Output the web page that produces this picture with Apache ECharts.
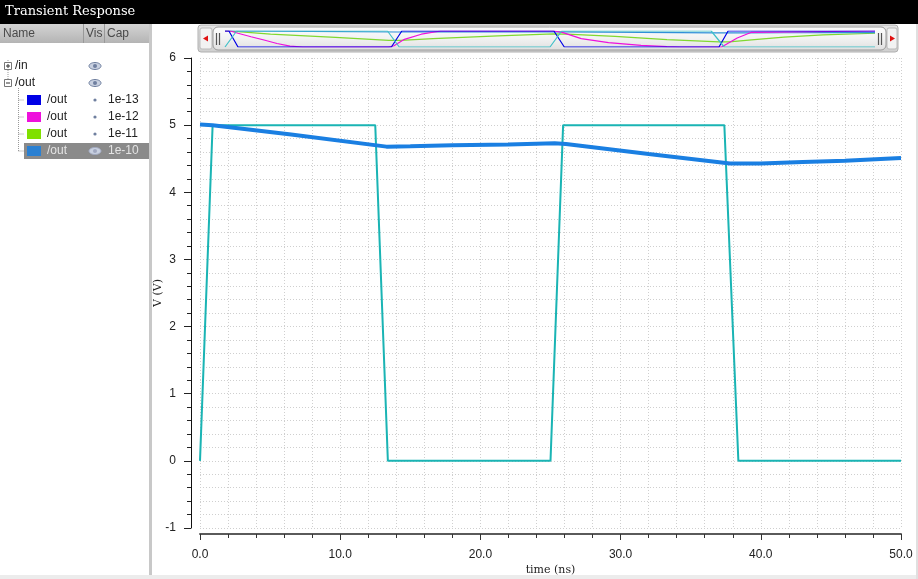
<!DOCTYPE html>
<html><head><meta charset="utf-8">
<script src="https://cdn.jsdelivr.net/npm/echarts@6/dist/echarts.min.js"></script>
<style>html,body{margin:0;padding:0;background:#fff}#c{width:918px;height:579px}</style>
</head><body><div id="c"></div>
<script>
// ---- data (time in ns, voltage in V) ----
const inT  = [0, 0.9, 12.5, 13.4, 25.0, 25.9, 37.4, 38.4, 50];
const inV  = [0, 5, 5, 0, 0, 5, 5, 0, 0];
const c10T = [0, 0.9, 6.5, 13.3, 15, 18, 22, 25.3, 26.1, 32, 37.8, 40, 43, 46, 50];
const c10V = [5.01, 5.0, 4.86, 4.68, 4.685, 4.70, 4.71, 4.73, 4.72, 4.57, 4.43, 4.43, 4.45, 4.47, 4.51];
const c11T = [0, 1, 3.5, 8.5, 12.6, 13.5, 16, 21, 25.3, 26.3, 30, 34, 38, 38.8, 40.5, 43, 46, 50];
const c11V = [5, 4.8, 4.0, 3.0, 2.1, 2.1, 2.6, 3.5, 4.1, 4.0, 3.3, 2.3, 1.6, 1.6, 2.2, 3.1, 3.8, 4.3];
const c12T = [0, 0.4, 1, 2, 3, 4, 5, 6, 12.6, 13.0, 13.8, 15.1, 16.6, 25.3, 26.0, 27.4, 29.5, 32, 34, 35, 38.2, 38.7, 39.4, 40.5, 50];
const c12V = [5, 5, 4.3, 3.2, 2.2, 1.1, 0.3, 0, 0, 0.4, 2.4, 4.0, 5, 5, 4.5, 2.6, 1.35, 0.5, 0.1, 0, 0, 1.2, 2.8, 4.6, 5];
const c13T = [0, 0.3, 1.0, 12.8, 13.6, 25.3, 26.1, 38.0, 38.7, 50];
const c13V = [5, 5, 0, 0, 5, 5, 0, 0, 5, 5];
const xTicks = [0, 10, 20, 30, 40, 50];
const yTicks = [-1, 0, 1, 2, 3, 4, 5, 6];
const rows = [
  {name: '/out', cap: '1e-13', color: '#0000e6'},
  {name: '/out', cap: '1e-12', color: '#ee10dc'},
  {name: '/out', cap: '1e-11', color: '#80e000'},
  {name: '/out', cap: '1e-10', color: '#2a80d2'}
];
const COL = {in: '#1ab4b4', c10: '#1a7fe2', c11: '#80d830', c12: '#ee10dc', c13: '#0000e6'};
const zip = (t, v) => t.map((x, i) => [x, v[i]]);

const chart = echarts.init(document.getElementById('c'), null, {renderer: 'canvas'});
const sans = 'Liberation Sans';
const serif = 'DejaVu Serif';

// ---- left panel + window graphics ----
const g = [];
g.push({type: 'rect', shape: {x: 0, y: 0, width: 918, height: 24}, style: {fill: '#000'}});
g.push({type: 'text', x: 5, y: 12, style: {text: 'Transient Response', fill: '#fff', font: '13px ' + serif, verticalAlign: 'middle'}});
g.push({type: 'rect', shape: {x: 0, y: 24, width: 150, height: 19},
  style: {fill: new echarts.graphic.LinearGradient(0, 0, 0, 1, [{offset: 0, color: '#d4d4d4'}, {offset: 1, color: '#b4b4b4'}])}});
g.push({type: 'line', shape: {x1: 83.5, y1: 24, x2: 83.5, y2: 43}, style: {stroke: '#999'}});
g.push({type: 'line', shape: {x1: 104.5, y1: 24, x2: 104.5, y2: 43}, style: {stroke: '#999'}});
[['Name', 3], ['Vis', 86], ['Cap', 107]].forEach(([t, x]) =>
  g.push({type: 'text', x: x, y: 33.5, style: {text: t, fill: '#4a4a4a', font: '12px ' + sans, verticalAlign: 'middle'}}));
g.push({type: 'rect', shape: {x: 149, y: 24, width: 3, height: 555}, style: {fill: '#c8c8c8'}});
g.push({type: 'rect', shape: {x: 0, y: 575, width: 918, height: 4}, style: {fill: '#ececec'}});
g.push({type: 'rect', shape: {x: 916, y: 24, width: 2, height: 555}, style: {fill: '#e0e0e0'}});

// tree expanders
function expander(cy, plus) {
  g.push({type: 'rect', shape: {x: 4.5, y: cy - 3.5, width: 7, height: 7}, style: {fill: '#fff', stroke: '#777'}});
  g.push({type: 'line', shape: {x1: 6, y1: cy, x2: 10, y2: cy}, style: {stroke: '#333'}});
  if (plus) g.push({type: 'line', shape: {x1: 8, y1: cy - 2, x2: 8, y2: cy + 2}, style: {stroke: '#333'}});
}
function eye(cx, cy, col) {
  g.push({type: 'ellipse', shape: {cx: cx, cy: cy, rx: 6, ry: 3.5}, style: {fill: '#c8d0e0', stroke: col, lineWidth: 1}});
  g.push({type: 'circle', shape: {cx: cx, cy: cy, r: 2}, style: {fill: col}});
}
g.push({type: 'line', shape: {x1: 8, y1: 60, x2: 8, y2: 80}, style: {stroke: '#999', lineDash: [1, 1]}});
expander(66, true);
expander(83, false);
g.push({type: 'text', x: 15, y: 66, style: {text: '/in', fill: '#222', font: '12px ' + sans, verticalAlign: 'middle'}});
g.push({type: 'text', x: 15, y: 83, style: {text: '/out', fill: '#222', font: '12px ' + sans, verticalAlign: 'middle'}});
eye(95, 66, '#6f7f9f');
eye(95, 83, '#6f7f9f');
g.push({type: 'line', shape: {x1: 18.5, y1: 88, x2: 18.5, y2: 151}, style: {stroke: '#999', lineDash: [1, 1]}});
rows.forEach((r, i) => {
  const cy = 100 + i * 17;
  const sel = i === rows.length - 1;
  if (sel) g.push({type: 'rect', shape: {x: 24, y: cy - 8, width: 125, height: 16}, style: {fill: '#8a8a8a'}});
  g.push({type: 'line', shape: {x1: 18.5, y1: cy, x2: 24, y2: cy}, style: {stroke: '#999', lineDash: [1, 1]}});
  g.push({type: 'rect', shape: {x: 27, y: cy - 5, width: 14, height: 10}, style: {fill: r.color}});
  g.push({type: 'text', x: 47, y: cy, style: {text: r.name, fill: sel ? '#e4e4e4' : '#222', font: '12px ' + sans, verticalAlign: 'middle'}});
  if (sel) eye(95, cy, '#a0a8c0');
  else g.push({type: 'circle', shape: {cx: 95, cy: cy, r: 1.6}, style: {fill: '#6f7f9f'}});
  g.push({type: 'text', x: 108, y: cy, style: {text: r.cap, fill: sel ? '#e4e4e4' : '#222', font: '12px ' + sans, verticalAlign: 'middle'}});
});

// overview scroll bar frame
g.push({type: 'rect', shape: {x: 198, y: 25, width: 700, height: 27, r: 3},
  style: {fill: new echarts.graphic.LinearGradient(0, 0, 0, 1, [{offset: 0, color: '#e6e6e6'}, {offset: 1, color: '#cfcfcf'}]), stroke: '#b0b0b0'}});
g.push({type: 'rect', shape: {x: 200, y: 28, width: 12, height: 21, r: 2}, style: {fill: '#f2f2f2', stroke: '#bbb'}});
g.push({type: 'polygon', shape: {points: [[203, 38.5], [208, 35.5], [208, 41.5]]}, style: {fill: '#e01010'}});
g.push({type: 'rect', shape: {x: 887, y: 28, width: 10, height: 21, r: 2}, style: {fill: '#f2f2f2', stroke: '#bbb'}});
g.push({type: 'polygon', shape: {points: [[895, 38.5], [890, 35.5], [890, 41.5]]}, style: {fill: '#e01010'}});
g.push({type: 'rect', shape: {x: 213, y: 27, width: 673, height: 23, r: 5},
  style: {fill: new echarts.graphic.LinearGradient(0, 0, 0, 1, [{offset: 0, color: '#fdfdfd'}, {offset: 0.5, color: '#f2f2f2'}, {offset: 1, color: '#dedede'}]), stroke: '#9a9a9a'}});
[216.5, 219.5, 878.5, 881.5].forEach(x =>
  g.push({type: 'line', shape: {x1: x, y1: 33, x2: x, y2: 45}, style: {stroke: '#555', lineWidth: 1.2}}));

const dotted = {type: [1, 2], color: '#cfcfcf', width: 1};

const miniSeries = [
  [c11T, c11V, COL.c11], [c10T, c10V, '#3090d8'], [c12T, c12V, COL.c12], [c13T, c13V, COL.c13], [inT, inV, '#40c0c8']
].map(([t, v, c]) => ({type: 'line', xAxisIndex: 1, yAxisIndex: 1, data: zip(t, v), symbol: 'none', silent: true, z: 5,
  lineStyle: {color: c, width: 1.2}}));

chart.setOption({
  animation: false,
  backgroundColor: '#fff',
  graphic: {elements: g},
  grid: [
    {left: 200, right: 17, top: 58, bottom: 51, containLabel: false, outerBoundsMode: 'none'},
    {left: 225, width: 650, top: 31, height: 16, outerBoundsMode: 'none'}
  ],
  xAxis: [{
    type: 'value', min: xTicks[0], max: xTicks[xTicks.length - 1], interval: 10, offset: 6, position: 'bottom',
    name: 'time (ns)', nameLocation: 'middle', nameGap: 31, nameMoveOverlap: false,
    nameTextStyle: {fontFamily: serif, fontSize: 11, color: '#222'},
    axisLine: {onZero: false, lineStyle: {color: '#5a5a5a', width: 2}},
    axisTick: {length: 6, lineStyle: {color: '#333'}},
    minorTick: {show: true, splitNumber: 5, length: 4, lineStyle: {color: '#333'}},
    axisLabel: {margin: 15, fontFamily: sans, fontSize: 12, color: '#222', formatter: v => v.toFixed(1)},
    splitLine: {show: true, lineStyle: dotted},
    minorSplitLine: {show: true, lineStyle: dotted}
  }, {
    gridIndex: 1, type: 'value', min: 0, max: 50, show: false
  }],
  yAxis: [{
    type: 'value', min: yTicks[0], max: yTicks[yTicks.length - 1], interval: 1, offset: 9, position: 'left',
    name: 'V (V)', nameLocation: 'middle', nameGap: 27, nameRotate: 90, nameMoveOverlap: false,
    nameTextStyle: {fontFamily: serif, fontSize: 11, color: '#222'},
    axisLine: {show: true, onZero: false, lineStyle: {color: '#111', width: 1}},
    axisTick: {show: true, length: 7, lineStyle: {color: '#222'}},
    minorTick: {show: true, splitNumber: 5, length: 4, lineStyle: {color: '#222'}},
    axisLabel: {margin: 15, fontFamily: sans, fontSize: 12, color: '#222'},
    splitLine: {show: true, lineStyle: dotted},
    minorSplitLine: {show: true, lineStyle: dotted}
  }, {
    gridIndex: 1, type: 'value', min: 0, max: 5, show: false
  }],
  series: [
    {type: 'line', name: '/in', data: zip(inT, inV), symbol: 'none', lineStyle: {color: COL.in, width: 2}, z: 3},
    {type: 'line', name: '/out 1e-10', data: zip(c10T, c10V), symbol: 'none', lineStyle: {color: COL.c10, width: 4}, z: 4},
    ...miniSeries
  ]
});
</script></body></html>
